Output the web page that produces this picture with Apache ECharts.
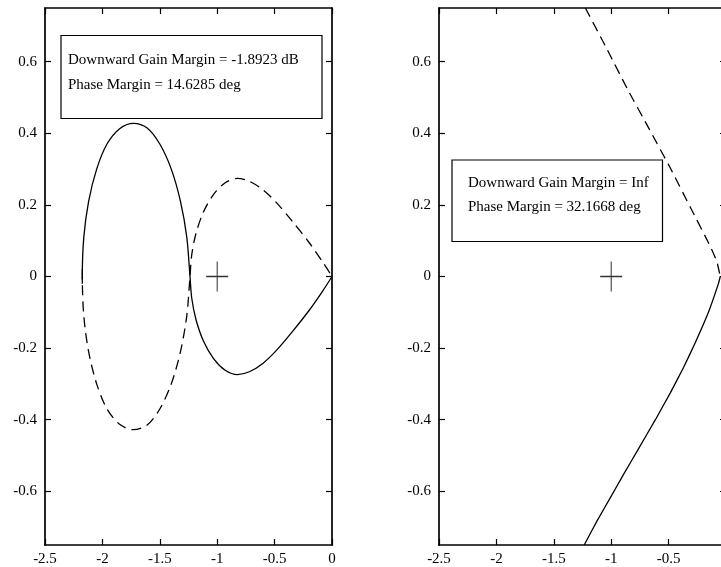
<!DOCTYPE html>
<html>
<head>
<meta charset="utf-8">
<script src="https://cdn.jsdelivr.net/npm/echarts@6/dist/echarts.min.js"></script>
<style>
html,body{margin:0;padding:0;background:#fff;overflow:hidden;}
#chart{width:721px;height:567px;}
</style>
</head>
<body>
<div id="chart"></div>
<script>
// ---- data ----
var xTicks = [-2.5, -2, -1.5, -1, -0.5, 0];
var yTicks = [-0.6, -0.4, -0.2, 0, 0.2, 0.4, 0.6];
var criticalPoint = [[-1, 0]];

// left plot (solid branch and dashed mirror branch)
var leftSolid = [
  [-2.175,-0.02],[-2.175,0],[-2.162,0.11],[-2.12,0.21],[-2.05,0.3],[-1.96,0.37],
  [-1.85,0.413],[-1.73,0.428],[-1.61,0.415],[-1.5,0.37],[-1.4,0.3],[-1.32,0.21],
  [-1.265,0.11],[-1.237,0],
  [-1.222,-0.06],[-1.185,-0.12],[-1.12,-0.18],[-1.03,-0.23],[-0.93,-0.262],
  [-0.825,-0.274],[-0.72,-0.266],[-0.6,-0.242],[-0.48,-0.205],[-0.34,-0.152],
  [-0.2,-0.095],[-0.08,-0.04],[0,0]
];
var leftDashed = [
  [-2.175,0.02],[-2.175,0],[-2.162,-0.11],[-2.12,-0.21],[-2.05,-0.3],[-1.96,-0.37],
  [-1.85,-0.413],[-1.73,-0.428],[-1.61,-0.415],[-1.5,-0.37],[-1.4,-0.3],[-1.32,-0.21],
  [-1.265,-0.11],[-1.237,0],
  [-1.222,0.06],[-1.185,0.12],[-1.12,0.18],[-1.03,0.23],[-0.93,0.262],
  [-0.825,0.274],[-0.72,0.266],[-0.6,0.242],[-0.48,0.205],[-0.34,0.152],
  [-0.2,0.095],[-0.08,0.04],[0,0]
];

// right plot
var rightDashed = [
  [-1.225,0.75],[-1.035,0.634],[-0.861,0.525],[-0.674,0.415],[-0.485,0.303],
  [-0.312,0.194],[-0.138,0.085],[-0.08,0.042],[-0.05,0]
];
var rightSolid = [
  [-0.05,0],[-0.066,-0.02],[-0.153,-0.1],[-0.268,-0.185],[-0.37,-0.254],
  [-0.485,-0.325],[-0.615,-0.4],[-0.76,-0.48],[-0.891,-0.552],[-1.006,-0.617],
  [-1.122,-0.682],[-1.235,-0.75]
];

var leftNote = ['Downward Gain Margin = -1.8923 dB', 'Phase Margin = 14.6285 deg'];
var rightNote = ['Downward Gain Margin = Inf', 'Phase Margin = 32.1668 deg'];

// ---- chart ----
var FONT = 'Liberation Serif, Times New Roman, serif';
var axisLineStyle = {show: true, onZero: false, lineStyle: {color: '#000', width: 1.7}};
var tickStyle = {show: true, inside: true, length: 6, lineStyle: {color: '#000', width: 1.2}};
var labelStyle = {color: '#000', fontFamily: FONT, fontSize: 15};

function xAx(gi, pos, showLabel) {
  return {
    type: 'value', gridIndex: gi, position: pos, min: -2.5, max: 0, interval: 0.5,
    axisLine: axisLineStyle,
    axisTick: Object.assign({customValues: xTicks}, tickStyle),
    splitLine: {show: false},
    axisLabel: Object.assign({show: showLabel, margin: 7, customValues: xTicks,
      hideOverlap: false, showMinLabel: true, showMaxLabel: true}, labelStyle)
  };
}
function yAx(gi, pos, showLabel) {
  return {
    type: 'value', gridIndex: gi, position: pos, min: -0.75, max: 0.75,
    axisLine: axisLineStyle,
    axisTick: Object.assign({customValues: yTicks}, tickStyle),
    splitLine: {show: false},
    axisLabel: Object.assign({show: showLabel, margin: 8, customValues: yTicks}, labelStyle)
  };
}

function line(data, xi, yi, dashed, sm) {
  return {
    type: 'line', data: data, xAxisIndex: xi, yAxisIndex: yi,
    showSymbol: false, smooth: sm, silent: true, clip: true,
    lineStyle: {color: '#000', width: 1.3, type: dashed ? [10, 6] : 'solid'}
  };
}
function plus(xi, yi) {
  return {
    type: 'scatter', data: criticalPoint, xAxisIndex: xi, yAxisIndex: yi, silent: true,
    symbol: 'path://M11,0 L11,30 M0,15 L22,15', symbolSize: [22, 30],
    itemStyle: {color: 'none', borderColor: '#000', borderWidth: 1.2}
  };
}

function note(lines, x, y, w, h, tx, ty1, ty2) {
  return [
    {type: 'rect', shape: {x: x, y: y, width: w, height: h}, z: 100,
     style: {fill: '#fff', stroke: '#000', lineWidth: 1.2}},
    {type: 'text', x: tx, y: ty1, z: 101,
     style: {text: lines[0], fill: '#000', font: '15px ' + FONT, textVerticalAlign: 'middle'}},
    {type: 'text', x: tx, y: ty2, z: 101,
     style: {text: lines[1], fill: '#000', font: '15px ' + FONT, textVerticalAlign: 'middle'}}
  ];
}

var chart = echarts.init(document.getElementById('chart'), null, {renderer: 'canvas'});
chart.setOption({
  animation: false,
  backgroundColor: '#fff',
  grid: [
    {left: 45, top: 8, width: 287, height: 537, containLabel: false, outerBoundsMode: 'none'},
    {left: 439, top: 8, width: 287, height: 537, containLabel: false, outerBoundsMode: 'none'}
  ],
  xAxis: [xAx(0, 'bottom', true), xAx(0, 'top', false), xAx(1, 'bottom', true), xAx(1, 'top', false)],
  yAxis: [yAx(0, 'left', true), yAx(0, 'right', false), yAx(1, 'left', true), yAx(1, 'right', false)],
  series: [
    line(leftSolid, 0, 0, false, 0.3),
    line(leftDashed, 0, 0, true, 0.3),
    plus(0, 0),
    line(rightDashed, 2, 2, true, 0.15),
    line(rightSolid, 2, 2, false, 0.15),
    plus(2, 2)
  ],
  graphic: [].concat(
    note(leftNote, 61, 35.5, 261, 83, 68, 60, 85),
    note(rightNote, 452, 160, 210.5, 81.5, 468, 183, 207)
  )
});
</script>
</body>
</html>
